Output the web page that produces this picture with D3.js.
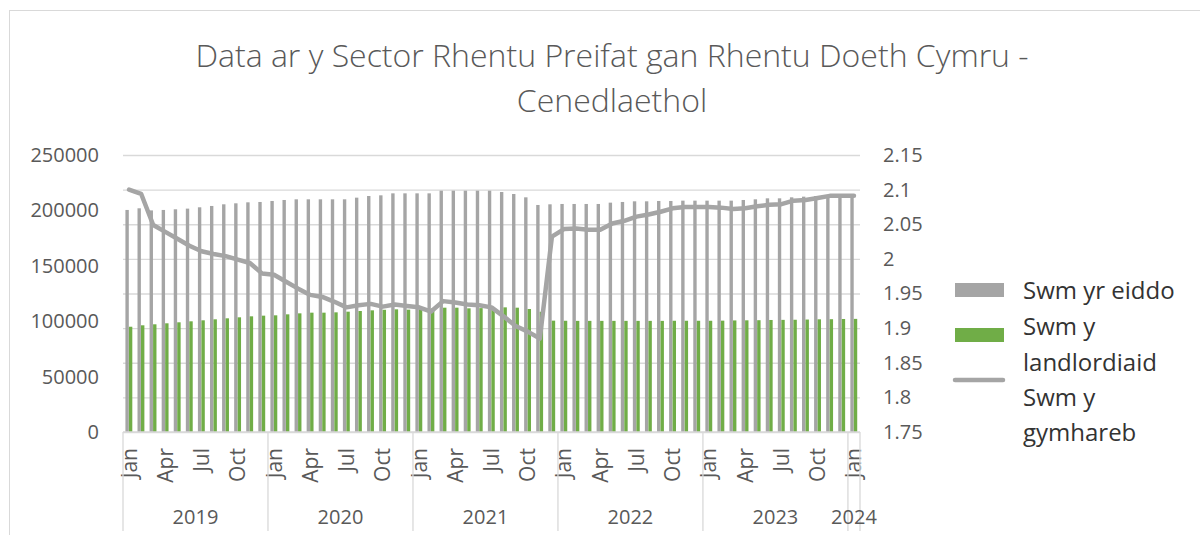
<!DOCTYPE html>
<html>
<head>
<meta charset="utf-8">
<script src="https://cdn.jsdelivr.net/npm/d3@7"></script>
<style>
  body { margin: 0; background: #fff; }
  text { font-family: "Open Sans", "Noto Sans", sans-serif; }
</style>
</head>
<body>
<div id="chart"></div>
<script>

// months Jan 2019 .. Jan 2024
var years = ["2019", "2020", "2021", "2022", "2023", "2024"];
var monthNames = ["Jan", "Feb", "Mar", "Apr", "May", "Jun", "Jul", "Aug", "Sep", "Oct", "Nov", "Dec"];
var shownMonths = ["Jan", "Apr", "Jul", "Oct"];

// Swm yr eiddo
var eiddo = [200400, 201900, 200000, 200400, 201000, 201600, 202800, 204000, 205500, 206400, 207300, 207600,
             208500, 209400, 210000, 210000, 210000, 210000, 210000, 211500, 213000, 213600, 215400, 215400,
             215400, 215400, 217800, 217800, 217800, 217800, 217800, 216600, 214800, 211800, 204900, 205500,
             205800, 205800, 205800, 205800, 207000, 207600, 208200, 208200, 208500, 208500, 208800, 208800,
             208800, 208800, 208800, 209400, 210000, 210900, 210900, 211800, 212400, 213000, 213300, 213300,
             213900];

// Swm y landlordiaid
var landlordiaid = [95000, 96300, 97200, 98100, 99000, 99900, 100800, 101700, 102600, 103500, 104400, 105000,
                    105300, 106200, 107100, 107700, 107700, 108000, 108600, 109200, 109800, 110300, 110700, 110400,
                    111300, 111500, 112200, 112200, 111600, 111800, 112600, 112500, 112200, 111000, 108500, 100500,
                    100400, 100300, 100300, 100300, 100300, 100300, 100300, 100300, 100300, 100400, 100400, 100400,
                    100400, 100500, 100700, 100800, 100900, 101100, 101200, 101300, 101500, 101700, 101800, 102000,
                    102100];

// Swm y gymhareb
var gymhareb = [2.100, 2.094, 2.049, 2.039, 2.029, 2.019, 2.011, 2.007, 2.004, 1.999, 1.994, 1.979,
                1.977, 1.967, 1.957, 1.948, 1.945, 1.938, 1.930, 1.933, 1.935, 1.931, 1.934, 1.932,
                1.930, 1.924, 1.939, 1.937, 1.934, 1.933, 1.930, 1.917, 1.903, 1.895, 1.885, 2.032,
                2.043, 2.044, 2.042, 2.042, 2.051, 2.055, 2.061, 2.064, 2.068, 2.073, 2.075, 2.075,
                2.075, 2.074, 2.072, 2.073, 2.076, 2.078, 2.079, 2.084, 2.085, 2.088, 2.091, 2.091,
                2.091];

var leftTicks = [0, 50000, 100000, 150000, 200000, 250000];
var rightTicks = [1.75, 1.8, 1.85, 1.9, 1.95, 2, 2.05, 2.1, 2.15];

var titleLines = ["Data ar y Sector Rhentu Preifat gan Rhentu Doeth Cymru -", "Cenedlaethol"];

// build category list
var cats = [];
for (var i = 0; i < eiddo.length; i++) {
  cats.push({
    key: i,
    month: monthNames[i % 12],
    year: years[Math.floor(i / 12)],
    eiddo: eiddo[i],
    landlord: landlordiaid[i],
    ratio: gymhareb[i]
  });
}

var width = 1200, height = 535;
var plot = {left: 123, right: 860, top: 155, bottom: 432};

var svg = d3.select("#chart").append("svg")
    .attr("width", width)
    .attr("height", height);

// chart border
svg.append("rect")
    .attr("x", 9.5).attr("y", 10.5)
    .attr("width", 1300).attr("height", 600)
    .attr("fill", "none")
    .attr("stroke", "#d9d9d9");

// scales
var x = d3.scaleBand()
    .domain(cats.map(function(d) { return d.key; }))
    .range([plot.left, plot.right])
    .padding(0);
var yLeft = d3.scaleLinear().domain([0, 250000]).range([plot.bottom, plot.top]);
var yRight = d3.scaleLinear().domain([1.75, 2.15]).range([plot.bottom, plot.top]);

var step = x.step();

// gridlines follow the right axis
svg.append("g")
    .attr("class", "grid")
    .attr("transform", "translate(" + plot.left + ",0)")
    .call(d3.axisLeft(yRight).tickValues(rightTicks).tickSize(-(plot.right - plot.left)).tickFormat(""))
    .call(function(g) {
      g.select(".domain").remove();
      g.selectAll("line").attr("stroke", "#d9d9d9").attr("stroke-width", 1.3);
    });

// left axis labels
svg.append("g")
    .attr("transform", "translate(" + (plot.left - 24) + ",0)")
    .call(d3.axisLeft(yLeft).tickValues(leftTicks).tickSize(0).tickPadding(0).tickFormat(d3.format("d")))
    .call(function(g) {
      g.select(".domain").remove();
      g.selectAll("text").attr("fill", "#595959").style("font-size", "20px")
        .style("font-family", "'Open Sans', sans-serif");
    });

// right axis labels
svg.append("g")
    .attr("transform", "translate(" + (plot.right + 23) + ",0)")
    .call(d3.axisRight(yRight).tickValues(rightTicks).tickSize(0).tickPadding(0).tickFormat(d3.format("")))
    .call(function(g) {
      g.select(".domain").remove();
      g.selectAll("text").attr("fill", "#595959").style("font-size", "20px")
        .style("font-family", "'Open Sans', sans-serif");
    });

// grey bars
svg.selectAll(".bar-eiddo")
    .data(cats)
  .enter().append("rect")
    .attr("class", "bar-eiddo")
    .attr("x", function(d) { return x(d.key) + step * 0.2; })
    .attr("width", step * 0.28)
    .attr("y", function(d) { return yLeft(d.eiddo); })
    .attr("height", function(d) { return plot.bottom - yLeft(d.eiddo); })
    .attr("fill", "#a5a5a5");

// green bars
svg.selectAll(".bar-landlord")
    .data(cats)
  .enter().append("rect")
    .attr("class", "bar-landlord")
    .attr("x", function(d) { return x(d.key) + step * 0.49; })
    .attr("width", step * 0.28)
    .attr("y", function(d) { return yLeft(d.landlord); })
    .attr("height", function(d) { return plot.bottom - yLeft(d.landlord); })
    .attr("fill", "#70ad47");

// ratio line
var line = d3.line()
    .x(function(d) { return x(d.key) + step / 2; })
    .y(function(d) { return yRight(d.ratio); });

svg.append("path")
    .datum(cats)
    .attr("d", line)
    .attr("fill", "none")
    .attr("stroke", "#a5a5a5")
    .attr("stroke-width", 4.5)
    .attr("stroke-linejoin", "round")
    .attr("stroke-linecap", "round");

// x axis line
svg.append("line")
    .attr("x1", plot.left).attr("x2", plot.right)
    .attr("y1", plot.bottom).attr("y2", plot.bottom)
    .attr("stroke", "#d9d9d9").attr("stroke-width", 1.3);

// month labels (rotated)
svg.selectAll(".month")
    .data(cats.filter(function(d) { return shownMonths.indexOf(d.month) >= 0; }))
  .enter().append("text")
    .attr("class", "month")
    .attr("transform", function(d) {
      return "translate(" + (x(d.key) + step / 2 + 7.5) + ",448) rotate(-90)";
    })
    .attr("text-anchor", "end")
    .attr("fill", "#595959")
    .style("font-size", "21px")
    .text(function(d) { return d.month; });

// year group dividers
var bounds = [];
years.forEach(function(yr, j) { bounds.push(x(j * 12)); });
bounds.push(plot.right);

svg.selectAll(".divider")
    .data(bounds)
  .enter().append("line")
    .attr("class", "divider")
    .attr("x1", function(d) { return d; }).attr("x2", function(d) { return d; })
    .attr("y1", plot.bottom).attr("y2", 531)
    .attr("stroke", "#d9d9d9").attr("stroke-width", 1.3);

// year labels
svg.selectAll(".year")
    .data(years)
  .enter().append("text")
    .attr("class", "year")
    .attr("x", function(d, j) { return (bounds[j] + bounds[j + 1]) / 2; })
    .attr("y", 524)
    .attr("text-anchor", "middle")
    .attr("fill", "#595959")
    .style("font-size", "20px")
    .text(function(d) { return d; });

// title
svg.selectAll(".title")
    .data(titleLines)
  .enter().append("text")
    .attr("class", "title")
    .attr("x", 612)
    .attr("y", function(d, j) { return 67 + j * 45; })
    .attr("text-anchor", "middle")
    .attr("fill", "#595959")
    .style("font-size", "32px")
    .style("font-weight", 300)
    .text(function(d) { return d; });

// legend
var legend = svg.append("g").attr("class", "legend");

legend.append("rect")
    .attr("x", 955).attr("y", 283).attr("width", 49).attr("height", 14)
    .attr("fill", "#a5a5a5");
legend.append("rect")
    .attr("x", 955).attr("y", 328).attr("width", 49).attr("height", 14)
    .attr("fill", "#70ad47");
legend.append("line")
    .attr("x1", 955).attr("x2", 1003).attr("y1", 380).attr("y2", 380)
    .attr("stroke", "#a5a5a5").attr("stroke-width", 4.5).attr("stroke-linecap", "round");

var legendRows = [
  {text: "Swm yr eiddo", y: 299},
  {text: "Swm y", y: 335},
  {text: "landlordiaid", y: 371},
  {text: "Swm y", y: 406},
  {text: "gymhareb", y: 441}
];

legend.selectAll(".legend-text")
    .data(legendRows)
  .enter().append("text")
    .attr("class", "legend-text")
    .attr("x", 1023)
    .attr("y", function(d) { return d.y; })
    .attr("fill", "#333333")
    .style("font-size", "24px")
    .text(function(d) { return d.text; });

</script>
</body>
</html>
